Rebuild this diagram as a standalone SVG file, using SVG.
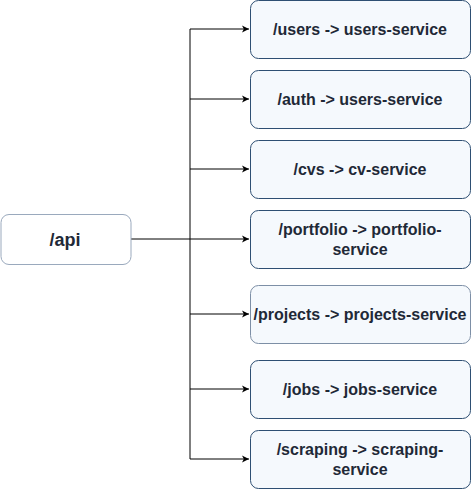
<svg xmlns="http://www.w3.org/2000/svg" width="472" height="489" viewBox="0 0 472 489">
<style>
.svc{fill:#f5f9fd;stroke:#2e4f73;stroke-width:1}
.svc2{fill:#f5f9fd;stroke:#7d8fa6;stroke-width:1}
.api{fill:#ffffff;stroke:#9aa9bd;stroke-width:1}
.t{font-family:"Liberation Sans",Arial,sans-serif;font-weight:bold;font-size:16px;fill:#1f2937;text-anchor:middle}
.c{fill:none;stroke:#000000;stroke-width:1}
</style>
<defs>
<marker id="arr" markerWidth="8" markerHeight="8" refX="7" refY="4" orient="auto" markerUnits="userSpaceOnUse">
<path d="M0,0.5 L7,4 L0,7.5 L1.8,4 Z" fill="#000"/>
</marker>
</defs>
<rect width="472" height="489" fill="#ffffff"/>
<g id="connectors">
<path class="c" d="M131,239 H249" marker-end="url(#arr)"/>
<path class="c" d="M190,29 V459"/>
<path class="c" d="M190,29 H249" marker-end="url(#arr)"/>
<path class="c" d="M190,99 H249" marker-end="url(#arr)"/>
<path class="c" d="M190,169 H249" marker-end="url(#arr)"/>
<path class="c" d="M190,314 H249" marker-end="url(#arr)"/>
<path class="c" d="M190,389 H249" marker-end="url(#arr)"/>
<path class="c" d="M190,459 H249" marker-end="url(#arr)"/>
</g>
<g id="api">
<rect class="api" x="1" y="214.5" width="130" height="50" rx="8"/>
<text class="t" x="65" y="246" style="font-size:18px">/api</text>
</g>
<g id="users">
<rect class="svc" x="250.5" y="0.5" width="220" height="58" rx="8"/>
<text class="t" x="360" y="35">/users -&gt; users-service</text>
</g>
<g id="auth">
<rect class="svc" x="250.5" y="70.5" width="220" height="58" rx="8"/>
<text class="t" x="360" y="105">/auth -&gt; users-service</text>
</g>
<g id="cvs">
<rect class="svc" x="250.5" y="140.5" width="220" height="58" rx="8"/>
<text class="t" x="360" y="175">/cvs -&gt; cv-service</text>
</g>
<g id="portfolio">
<rect class="svc" x="250.5" y="210.5" width="220" height="58" rx="8"/>
<text class="t" x="360" y="235">/portfolio -&gt; portfolio-</text>
<text class="t" x="360" y="255">service</text>
</g>
<g id="projects">
<rect class="svc2" x="250.5" y="285.5" width="220" height="58" rx="8"/>
<text class="t" x="360" y="320">/projects -&gt; projects-service</text>
</g>
<g id="jobs">
<rect class="svc" x="250.5" y="360.5" width="220" height="58" rx="8"/>
<text class="t" x="360" y="395">/jobs -&gt; jobs-service</text>
</g>
<g id="scraping">
<rect class="svc" x="250.5" y="430.5" width="220" height="58" rx="8"/>
<text class="t" x="360" y="455">/scraping -&gt; scraping-</text>
<text class="t" x="360" y="475">service</text>
</g>
</svg>
